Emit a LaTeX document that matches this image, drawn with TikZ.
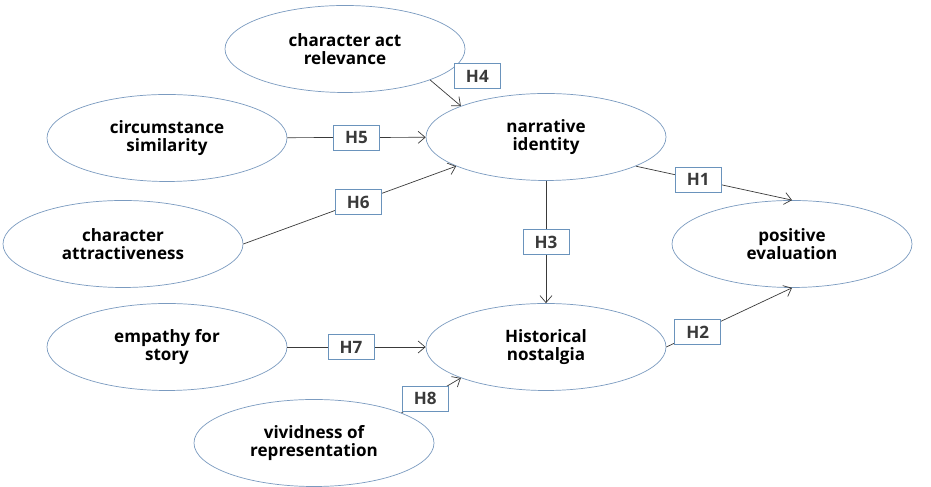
\documentclass[tikz,border=0pt]{standalone}
\usepackage{fontspec}
\setmainfont{Open Sans}
\usepackage{tikz}
\usetikzlibrary{arrows.meta,shapes.geometric}
\definecolor{modline}{HTML}{7B9BC0}
\definecolor{modbox}{HTML}{6A93BC}
\definecolor{modink}{HTML}{3A3A3A}
\tikzset{
  cons/.style={ellipse, draw=modline, fill=white, minimum width=4.8cm, minimum height=1.74cm, inner sep=0pt, align=center, font=\fontsize{9.7}{10}\selectfont\bfseries},
  hyp/.style={draw=modbox, fill=white, minimum width=0.92cm, minimum height=0.5cm, inner sep=1pt, font=\fontsize{9.7}{10}\selectfont\bfseries},
  arr/.style={-{Straight Barb[length=1.4mm, width=2.4mm]}, thin, color=modink},
}

\begin{document}
\begin{tikzpicture}
    \useasboundingbox (0,0) rectangle (18.62,9.74);
    \foreach \nm/\x/\y/\tx in {
      cr/6.90/8.76/{character act\\relevance},
      cs/3.34/6.98/{circumstance\\similarity},
      ni/10.92/7.00/{narrative\\identity},
      ca/2.46/4.86/{character\\attractiveness},
      pe/15.84/4.86/{positive\\evaluation},
      es/3.34/2.80/{empathy for\\story},
      hn/10.92/2.80/{Historical\\nostalgia},
      vr/6.28/0.88/{vividness of\\representation}}
    { \node[cons] (\nm) at (\x,\y) {\tx}; }
    \draw[arr] (cr.-20) -- node[hyp, pos=0.3, xshift=0.76cm, yshift=0.23cm] (h4) {H4} (ni.160);
    \draw[arr] (cs) -- node[hyp] (h5) {H5} (ni);
    \draw[arr] (ca.east) -- node[hyp, pos=0.54] (h6) {H6} (ni.198);
    \draw[arr] (ni.-18) -- node[hyp, pos=0.4] (h1) {H1} (pe.north);
    \draw[arr] (ni) -- node[hyp] (h3) {H3} (hn);
    \draw[arr] (hn.east) -- node[hyp, pos=0.25] (h2) {H2} (pe.south);
    \draw[arr] (es) -- node[hyp, pos=0.46] (h7) {H7} (hn);
    \draw[arr] (vr.19) -- node[hyp, pos=0.4] (h8) {H8} (hn.200);
\end{tikzpicture}
\end{document}
